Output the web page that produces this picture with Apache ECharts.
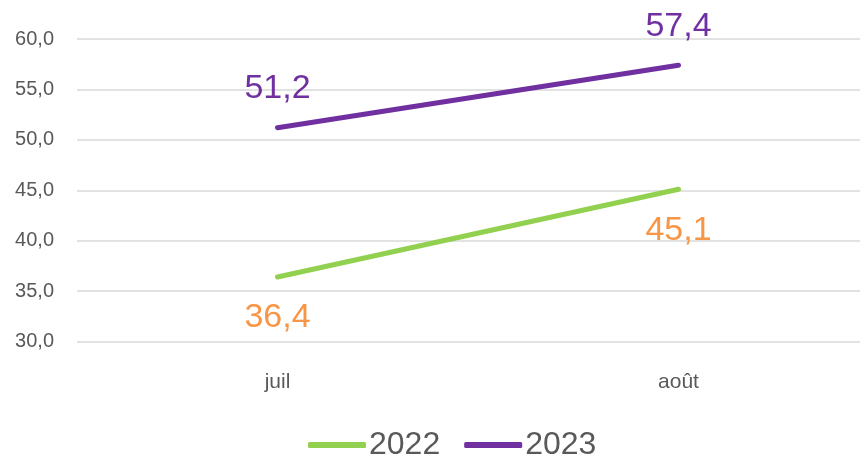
<!DOCTYPE html>
<html>
<head>
<meta charset="utf-8">
<script src="https://cdn.jsdelivr.net/npm/echarts@6/dist/echarts.min.js"></script>
<style>
  html, body { margin: 0; padding: 0; background: #fff; }
  #chart { width: 860px; height: 456px; }
</style>
</head>
<body>
<div id="chart"></div>
<script>
// données
var months = ['juil', 'août'];
var values2022 = [36.4, 45.1];
var values2023 = [51.2, 57.4];
var yTicks = [30, 35, 40, 45, 50, 55, 60];

var FONT = 'Liberation Sans, Arial, sans-serif';
var fmt = function (v, d) { return v.toFixed(d).replace('.', ','); };

var myChart = echarts.init(document.getElementById('chart'));
var option = {
  animation: false,
  textStyle: { fontFamily: FONT },
  grid: { left: 77, width: 802, top: 39, bottom: 114.5, outerBoundsMode: 'none' },
  legend: {
    data: ['2022', '2023'],
    bottom: -10,
    left: 303,
    itemWidth: 58,
    itemHeight: 6,
    itemGap: 24,
    icon: 'roundRect',
    textStyle: { color: '#595959', fontSize: 32, fontFamily: FONT, padding: [0, 0, 0, -2] }
  },
  xAxis: {
    type: 'category',
    data: months,
    boundaryGap: true,
    axisLine: { show: false },
    axisTick: { show: false },
    axisLabel: { color: '#595959', fontSize: 21, margin: 30, fontFamily: FONT }
  },
  yAxis: {
    type: 'value',
    min: yTicks[0],
    max: yTicks[yTicks.length - 1],
    interval: 5,
    axisLine: { show: false },
    axisTick: { show: false },
    axisLabel: {
      color: '#595959', fontSize: 20, margin: 23, fontFamily: FONT,
      formatter: function (v) { return fmt(v, 1); }
    },
    splitLine: { lineStyle: { color: '#D9D9D9', width: 1.5 } }
  },
  series: [
    {
      name: '2022',
      type: 'line',
      data: values2022,
      symbol: 'circle',
      symbolSize: 0.1,
      color: '#92D050',
      lineStyle: { width: 5, cap: 'round' },
      label: {
        show: true,
        position: 'bottom',
        distance: 24,
        color: '#F79646',
        fontSize: 34,
        fontFamily: FONT,
        formatter: function (p) { return fmt(p.value, 1); }
      }
    },
    {
      name: '2023',
      type: 'line',
      data: values2023,
      symbol: 'circle',
      symbolSize: 0.1,
      color: '#7030A0',
      lineStyle: { width: 5, cap: 'round' },
      label: {
        show: true,
        position: 'top',
        distance: 22,
        color: '#7030A0',
        fontSize: 34,
        fontFamily: FONT,
        formatter: function (p) { return fmt(p.value, 1); }
      }
    }
  ]
};
myChart.setOption(option);
</script>
</body>
</html>
